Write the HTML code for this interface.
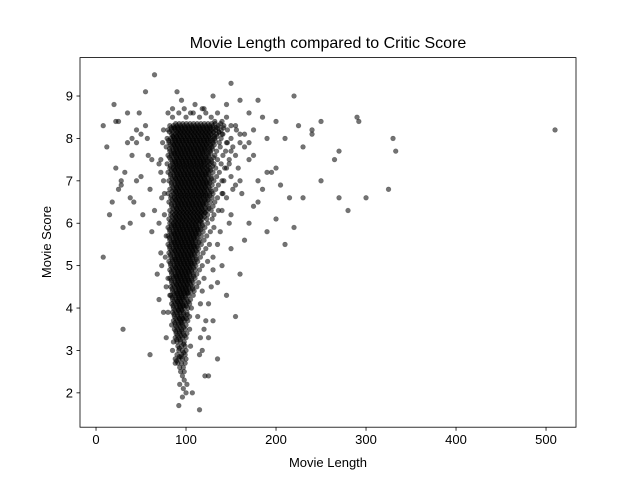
<!DOCTYPE html>
<html><head><meta charset="utf-8"><style>
body{margin:0;background:#fff;}
svg{display:block;font-family:"Liberation Sans","DejaVu Sans",sans-serif;}
</style></head><body>
<svg id="chart" width="640" height="480">
<rect x="0" y="0" width="640" height="480" fill="#fff"/>
<text x="328" y="48" font-size="16" text-anchor="middle">Movie Length compared to Critic Score</text>
<g id="marks"></g>
<g id="axes"></g>
<text x="328" y="467" font-size="13" text-anchor="middle">Movie Length</text>
<text x="0" y="0" font-size="13" text-anchor="middle" transform="translate(51,242) rotate(-90)">Movie Score</text>
</svg>
<script>
const xTicks = [0,100,200,300,400,500];
const yTicks = [2,3,4,5,6,7,8,9];
const rowScores = [8.3,8.2,8.1,8.0,7.9,7.8,7.7,7.6,7.5,7.4,7.3,7.2,7.1,7.0,6.9,6.8,6.7,6.6,6.5,6.4,6.3,6.2,6.1,6.0,5.9,5.8,5.7,5.6,5.5,5.4,5.3,5.2,5.1,5.0,4.9,4.8,4.7,4.6,4.5,4.4,4.3,4.2,4.1,4.0,3.9,3.8,3.7,3.6,3.5,3.4,3.3,3.2,3.1,3.0,2.9,2.8,2.7,2.6,2.5,2.4,2.3,2.2,2.1,2.0,1.9,1.7,1.6];
const rowLengths = [
[82,86,90,94,98,102,106,110,114,118,122,126,130,136,142,150],
[80,84,88,92,96,100,104,108,112,116,120,124,128,133,139,146,156],
[84,88,92,96,100,104,108,112,116,120,124,128,134,141,160],
[79,83,87,91,95,99,103,107,111,115,119,123,127,132,139,150],
[81,85,89,93,97,101,105,109,113,117,121,125,130,137,146],
[78,84,88,92,96,100,104,108,112,116,120,124,129,138,152],
[82,86,90,94,98,102,106,110,114,118,122,127,134,144],
[80,84,88,92,96,100,104,108,112,116,120,125,132,141],
[83,87,91,95,99,103,107,111,115,119,123,128,135,148],
[79,85,89,93,97,101,105,109,113,117,121,126,131,139],
[82,86,90,94,98,102,106,110,114,118,122,127,133,143],
[80,85,89,93,97,101,105,109,113,117,121,125,130,137],
[83,87,91,95,99,103,107,111,115,119,123,128,134],
[81,86,90,94,98,102,106,110,114,118,122,126,131,140],
[84,88,92,96,100,104,108,112,116,120,124,129,136],
[82,87,91,95,99,103,107,111,115,119,123,127,133],
[80,86,90,94,98,102,106,110,114,118,122,126,130,141],
[83,87,91,95,99,103,107,111,115,119,124,129,135],
[81,86,90,94,98,102,106,110,114,118,122,127,132],
[84,88,92,96,100,104,108,112,116,120,125,130],
[82,87,91,95,99,103,107,111,115,119,123,128,136],
[83,87,91,95,99,103,107,111,115,119,124,131],
[81,86,90,94,98,102,106,110,114,118,123,129],
[82,86,90,94,98,102,106,110,114,118,124],
[80,84,88,92,96,100,104,108,112,116,121,131],
[82,86,90,94,98,102,106,110,114,119,127],
[80,84,88,92,96,100,104,108,112,117,123],
[82,86,90,94,98,102,106,110,115,120],
[80,84,88,92,96,100,104,108,112,117,126],
[82,86,90,94,98,102,106,110,114,122],
[81,85,89,93,97,101,105,109,113,119],
[83,87,91,95,99,103,107,111,116],
[81,85,89,93,97,101,105,109,113,124],
[83,87,91,95,99,103,107,111,118],
[82,86,90,94,98,102,106,110,115],
[84,88,92,96,100,104,108,112],
[82,86,90,94,98,102,106,110,120],
[84,88,92,96,100,104,108,114],
[83,87,91,95,99,103,107,112],
[85,89,93,97,101,105,109,118],
[83,87,91,95,99,103,108],
[85,89,93,97,101,105],
[84,88,92,96,100,104,116],
[86,90,94,98,102,106],
[85,89,93,97,101],
[87,91,95,99,104,113],
[86,90,94,98,102,122],
[88,92,96,100],
[87,91,95,99,104],
[89,93,97,101],
[88,92,96,100,116],
[90,94,98],
[91,95,99,105],
[92,96,100],
[90,95,99,115],
[88,92,96,100],
[91,95,99],
[93,97],
[94,98],
[96,121,125],
[98],
[93,101],
[97],
[100,107],
[96],
[92],
[115]];
const outlierLengths = [8,8,12,15,20,22,25,30,28,35,40,42,45,50,55,57,60,65,62,70,68,72,75,78,60,70,30,38,45,52,65,58,48,35,25,18,40,150,160,170,175,180,185,190,200,210,220,225,230,240,250,265,270,250,270,280,290,292,300,325,330,333,510,240,215,210,220,200,190,195,180,170,165,160,155,145,140,150,160,170,180,185,165,155,175,200,205,230,130,135,125,140,150,145,155,135,130,190,145,130,120,110,90,95,105,85,80,75,72,76,70,73,78,80,85,88,22,32,45,55,62,28,38,50];
const outlierScores = [5.2,8.3,7.8,6.2,8.8,7.3,8.4,3.5,7.0,8.6,7.6,6.5,8.2,7.1,9.1,8.0,6.8,9.5,5.8,7.4,4.8,5.3,3.9,3.3,2.9,4.2,5.9,6.0,7.0,6.2,6.3,7.6,8.6,7.9,6.8,6.5,8.0,9.3,8.9,8.6,8.2,8.9,8.5,8.0,8.4,8.0,9.0,8.3,7.8,8.2,8.4,7.5,7.7,7.0,6.6,6.3,8.5,8.4,6.6,6.8,8.0,7.7,8.2,8.1,6.6,5.5,5.9,6.1,7.2,7.2,6.5,6.0,5.6,4.8,3.8,4.3,5.0,6.2,7.0,7.5,7.0,6.8,7.8,8.3,6.4,7.3,6.9,6.6,3.7,2.8,3.3,6.7,5.4,7.3,6.9,4.6,5.2,5.8,8.8,9.0,8.7,8.8,9.1,8.9,8.6,8.7,8.6,8.2,7.2,6.7,6.0,5.0,4.5,3.9,3.0,2.7,8.4,7.2,7.9,8.3,7.5,6.9,6.6,8.1];
const fringeLengths = [85,92,100,108,115,122,128,135,140,145,98,118,132,140,145,150,148,155,160,142,150,158,145,152,140,148,138,135,130,128,125,120,118,165,170,175,162,74,72,75,73,76,78,77,80,82,84,86];
const fringeScores = [8.5,8.6,8.5,8.6,8.5,8.6,8.5,8.6,8.4,8.5,8.7,8.7,8.4,8.1,7.9,7.7,7.4,7.6,7.9,7.0,7.1,7.3,6.6,6.8,6.3,6.0,5.8,5.5,4.9,4.5,4.1,3.5,3.0,8.1,7.9,7.6,6.7,7.9,7.5,7.0,6.6,6.2,5.7,5.2,4.7,4.3,3.6,3.2];

const L=80,R=576,T=57.6,B=427.2;
const xMin=-17.8,xMax=533.3,yMin=1.19,yMax=9.906;
const xs=v=>L+(v-xMin)/(xMax-xMin)*(R-L);
const ys=v=>B-(v-yMin)/(yMax-yMin)*(B-T);
const NS="http://www.w3.org/2000/svg";
const marks=document.getElementById('marks');
function dot(px,py){
  const c=document.createElementNS(NS,'circle');
  c.setAttribute('cx',px);c.setAttribute('cy',py);c.setAttribute('r',2.4);
  c.setAttribute('fill','#000');c.setAttribute('fill-opacity','0.55');
  c.setAttribute('stroke','#000');c.setAttribute('stroke-opacity','0.3');c.setAttribute('stroke-width','0.6');
  
  
  marks.appendChild(c);
}
// dense core: inner points drawn with overlapping passes to mimic overplotting
rowScores.forEach((s,i)=>{
  const row=rowLengths[i];
  row.forEach((x,j)=>{
    dot(xs(x),ys(s));
    if(row.length>3 && j>=1 && j<row.length-2){
      dot(xs(x)+2.2,ys(s)-2);
      dot(xs(x)-2.2,ys(s)+2);
    }
  });
});
outlierLengths.forEach((x,i)=>dot(xs(x),ys(outlierScores[i])));
fringeLengths.forEach((x,i)=>dot(xs(x),ys(fringeScores[i])));
const axes=document.getElementById('axes');
function el(tag,attrs,parent){const e=document.createElementNS(NS,tag);for(const k in attrs)e.setAttribute(k,attrs[k]);(parent||axes).appendChild(e);return e;}
const frame=el('rect',{x:L,y:T,width:R-L,height:B-T,fill:'none',stroke:'#000','stroke-width':0.8});


xTicks.forEach(t=>{
  const x=xs(t);
  const ln=el('line',{x1:x,x2:x,y1:B,y2:B+3.5,stroke:'#000','stroke-width':0.8});
  
  
  const tx=el('text',{x:x,y:B+17,'font-size':13,'text-anchor':'middle'});
  tx.textContent=t;
  
  
});
yTicks.forEach(t=>{
  const y=ys(t);
  const ln=el('line',{x1:L-3.5,x2:L,y1:y,y2:y,stroke:'#000','stroke-width':0.8});
  
  
  const tx=el('text',{x:L-7,y:y+4.5,'font-size':13,'text-anchor':'end'});
  tx.textContent=t;
  
  
});
</script>
</body></html>
